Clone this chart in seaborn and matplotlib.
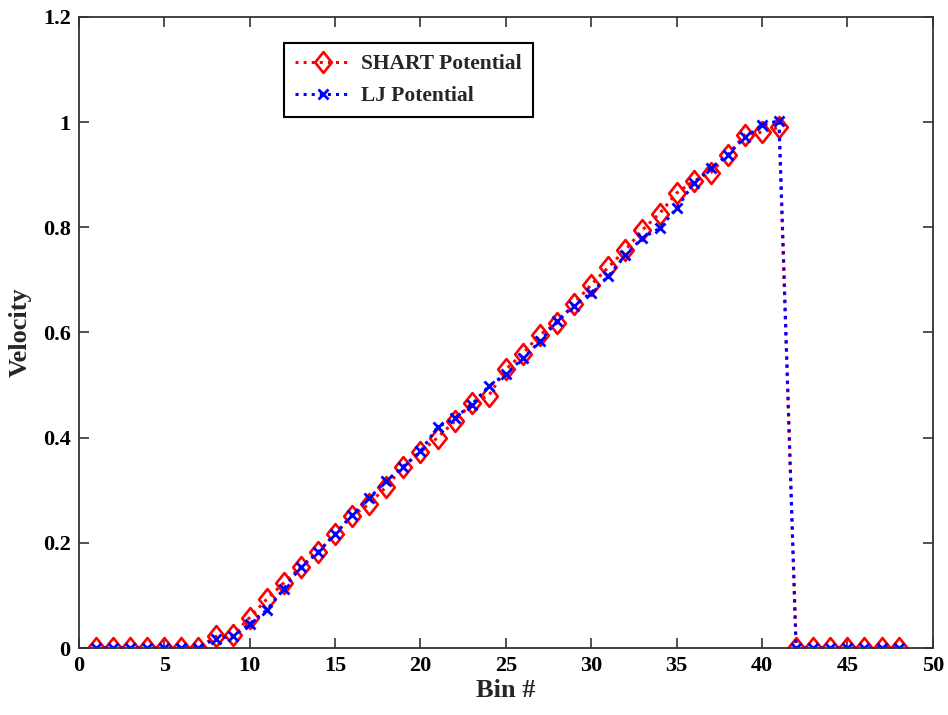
import numpy as np
import pandas as pd
import matplotlib
matplotlib.use("Agg")
import matplotlib.pyplot as plt
from matplotlib.path import Path
import seaborn as sns

# Bin indices and velocity profiles for the two interatomic potentials
bins = list(range(1, 49))
shart_velocity = [
    0, 0, 0, 0, 0, 0, 0, 0.022, 0.025, 0.058,
    0.093, 0.124, 0.154, 0.182, 0.217, 0.251, 0.274, 0.307, 0.345, 0.373,
    0.400, 0.431, 0.466, 0.480, 0.530, 0.560, 0.596, 0.618, 0.655, 0.691,
    0.724, 0.757, 0.795, 0.826, 0.865, 0.888, 0.904, 0.938, 0.976, 0.981,
    0.990, 0, 0, 0, 0, 0, 0, 0,
]
lj_velocity = [
    0, 0, 0, 0, 0, 0, 0, 0.018, 0.022, 0.046,
    0.072, 0.113, 0.154, 0.182, 0.217, 0.253, 0.285, 0.318, 0.345, 0.374,
    0.420, 0.437, 0.463, 0.498, 0.521, 0.551, 0.583, 0.622, 0.651, 0.676,
    0.707, 0.747, 0.780, 0.798, 0.836, 0.884, 0.912, 0.938, 0.971, 0.994,
    1.003, 0, 0, 0, 0, 0, 0, 0,
]
series_labels = ["SHART Potential", "LJ Potential"]
x_ticks = [0, 5, 10, 15, 20, 25, 30, 35, 40, 45, 50]
y_ticks = [0, 0.2, 0.4, 0.6, 0.8, 1.0, 1.2]
y_tick_labels = ["0", "0.2", "0.4", "0.6", "0.8", "1", "1.2"]

df = pd.DataFrame({"bin": bins, "shart": shart_velocity, "lj": lj_velocity})

# slightly tall diamond outline
tall_diamond = Path([(0, 1), (0.8, 0), (0, -1), (-0.8, 0), (0, 1)],
                    [Path.MOVETO, Path.LINETO, Path.LINETO, Path.LINETO,
                     Path.CLOSEPOLY])

sns.set_style("ticks")
plt.rcParams["font.family"] = ["Liberation Serif", "DejaVu Serif"]
plt.rcParams["font.weight"] = "bold"

fig = plt.figure(figsize=(9.48, 7.15), dpi=100)
ax = fig.add_axes([0.0833, 0.0937, 0.9006, 0.8826])

sns.lineplot(data=df, x="bin", y="shart", ax=ax, color="red",
             linestyle=":", linewidth=2.2, marker=tall_diamond, markersize=15,
             markerfacecolor="none", markeredgecolor="red",
             markeredgewidth=1.9, label=series_labels[0])
sns.lineplot(data=df, x="bin", y="lj", ax=ax, color="blue",
             linestyle=":", linewidth=2.2, marker="x", markersize=6.5,
             markeredgecolor="blue", markeredgewidth=2.0,
             label=series_labels[1])

ax.set_xlim(0, 50)
ax.set_ylim(0, 1.2)
ax.set_xticks(x_ticks)
ax.set_yticks(y_ticks)
ax.set_yticklabels(y_tick_labels)
ax.tick_params(direction="in", length=7, width=1.1, top=True, right=True,
               labelsize=16, pad=6, colors="#222222", labelcolor="black")
for lbl in ax.get_xticklabels() + ax.get_yticklabels():
    lbl.set_fontweight("bold")
for sp in ax.spines.values():
    sp.set_visible(True)
    sp.set_linewidth(1.3)
    sp.set_color("#333333")

ax.set_xlabel("Bin #", fontsize=19, fontweight="bold", labelpad=2)
ax.set_ylabel("Velocity", fontsize=19, fontweight="bold", labelpad=8)

leg = ax.legend(loc="upper left", bbox_to_anchor=(0.24, 0.958),
                borderaxespad=0, fancybox=False, framealpha=1,
                edgecolor="black", handlelength=2.6, handletextpad=0.5,
                borderpad=0.5, labelspacing=0.55,
                prop={"family": "Liberation Serif", "weight": "bold", "size": 15.5})
leg.get_frame().set_linewidth(1.5)

fig.savefig("out.png", dpi=100, facecolor="white")
